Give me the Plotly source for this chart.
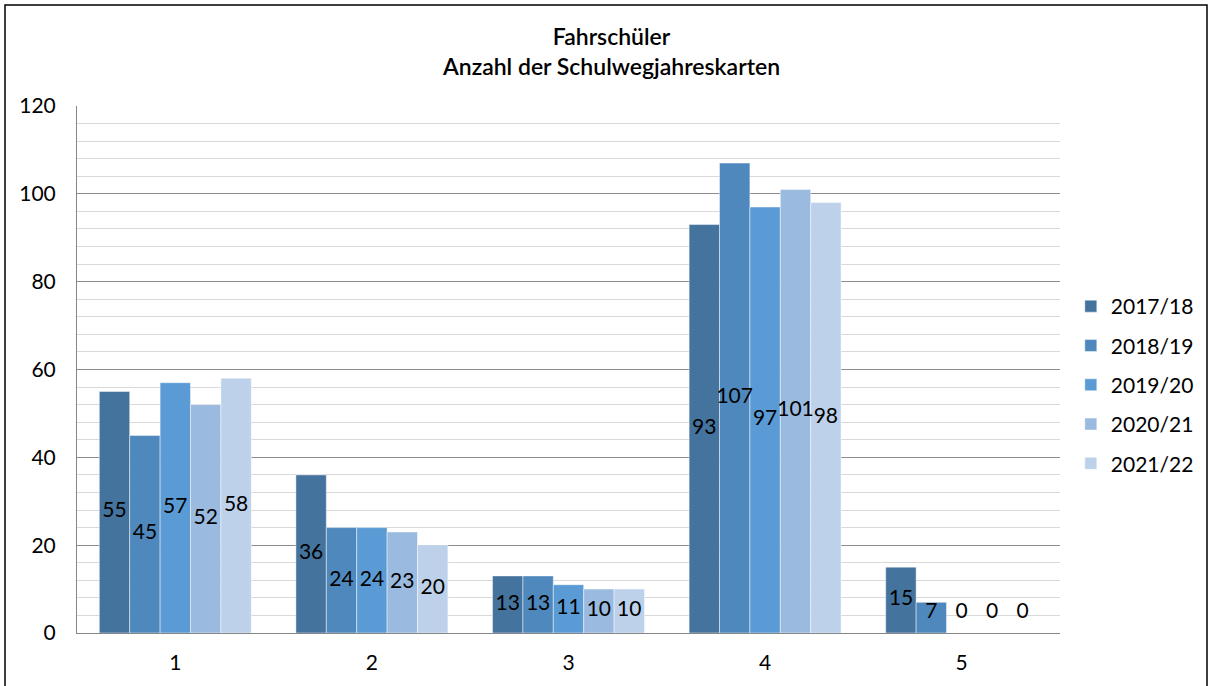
import plotly.graph_objects as go
import numpy as np

categories = ["1", "2", "3", "4", "5"]
series_names = ["2017/18", "2018/19", "2019/20", "2020/21", "2021/22"]
values = {
    "2017/18": [55, 36, 13, 93, 15],
    "2018/19": [45, 24, 13, 107, 7],
    "2019/20": [57, 24, 11, 97, 0],
    "2020/21": [52, 23, 10, 101, 0],
    "2021/22": [58, 20, 10, 98, 0],
}
colors = ["#44739e", "#4f88bc", "#5b9bd5", "#9bbae0", "#bdd1eb"]
y_ticks = [0, 20, 40, 60, 80, 100, 120]

FONT = "Lato"
FS = 21
bargap = 0.227
n = len(series_names)
w = (1 - bargap) / n
xs = np.arange(len(categories))

fig = go.Figure()
for k, name in enumerate(series_names):
    fig.add_trace(go.Bar(
        x=xs, y=values[name], name=name,
        marker=dict(color=colors[k], line=dict(color="rgba(255,255,255,0.45)", width=1)),
        legendgroup=name,
    ))
for k, name in enumerate(series_names):
    v = np.array(values[name], dtype=float)
    fig.add_trace(go.Scatter(
        x=xs + (k - (n - 1) / 2) * w,
        y=np.maximum(v / 2, 4.7),
        mode="text", text=[str(int(a)) for a in v],
        textfont=dict(family=FONT, size=FS, color="#000000"),
        showlegend=False, hoverinfo="skip", cliponaxis=False,
    ))

fig.update_layout(
    width=1211, height=686,
    margin=dict(l=77, r=151, t=106, b=53, autoexpand=False),
    paper_bgcolor="white", plot_bgcolor="white",
    barmode="group", bargap=bargap, bargroupgap=0,
    font=dict(family=FONT, size=FS, color="#000000"),
    title=dict(text="Fahrschüler<br>Anzahl der Schulwegjahreskarten",
               x=0.505, xanchor="center", y=1 - 45 / 686, yanchor="middle",
               font=dict(family=FONT, size=23, color="#000000", weight=600)),
    legend=dict(x=1.011, xanchor="left", y=0.4706, yanchor="middle",
                font=dict(family=FONT, size=FS), tracegroupgap=9,
                traceorder="grouped", itemwidth=30),
    showlegend=True,
)
fig.update_xaxes(
    range=[-0.5, len(categories) - 0.5],
    tickvals=list(xs), ticktext=categories,
    showgrid=False, showline=True, linecolor="#868686", linewidth=1,
    ticks="outside", ticklen=11, tickcolor="rgba(0,0,0,0)",
    zeroline=False,
)
fig.update_yaxes(
    range=[0, 120], tickvals=y_ticks,
    showgrid=True, gridcolor="#8c8c8c", gridwidth=1,
    minor=dict(dtick=4, showgrid=True, gridcolor="#d9d9d9", gridwidth=1),
    showline=True, linecolor="#868686", linewidth=1,
    ticks="outside", ticklen=16, tickcolor="rgba(0,0,0,0)",
    zeroline=False,
)
# outer chart border
pw = 1211 - 77 - 151
ph = 686 - 106 - 53
fig.add_shape(type="rect", xref="paper", yref="paper",
              x0=(5 - 77) / pw, x1=(1207 - 77) / pw,
              y0=-(686 - 633 + 10) / ph, y1=1 + (106 - 5) / ph,
              line=dict(color="#000000", width=1.5), layer="below")

fig.write_html("out.html", config={"displayModeBar": False},
               post_script="document.body.style.margin='0';")
